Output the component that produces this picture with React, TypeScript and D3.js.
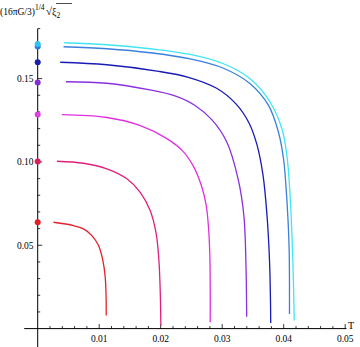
import React, { useEffect, useRef } from 'react';
import * as d3 from 'd3';

// [T, value]
const redCurve = [[0.00257, 0.0638], [0.00582, 0.0618], [0.00745, 0.0598], [0.00881, 0.0558], [0.00989, 0.0498], [0.0106, 0.0408], [0.01098, 0.0308], [0.01112, 0.0188], [0.01114, 0.0078]];
const crimsonCurve = [[0.00312, 0.1004], [0.00745, 0.0992], [0.01125, 0.0959], [0.0145, 0.0899], [0.01667, 0.0818], [0.01829, 0.0708], [0.01927, 0.0568], [0.01971, 0.0408], [0.01992, 0.0228], [0.02003, 0.0018]];
const magentaCurve = [[0.00393, 0.1284], [0.011, 0.1268], [0.0167, 0.1218], [0.021, 0.114], [0.0236, 0.1065], [0.0253, 0.0975], [0.0266, 0.086], [0.0274, 0.074], [0.02777, 0.0608], [0.02798, 0.045], [0.02805, 0.025], [0.02805, 0.0038]];
const purpleCurve = [[0.0046, 0.1481], [0.01122, 0.1472], [0.01826, 0.1432], [0.02233, 0.1396], [0.02558, 0.1339], [0.02834, 0.1252], [0.03073, 0.1121], [0.03262, 0.0892], [0.03354, 0.0671], [0.03387, 0.0371], [0.03398, 0.0071]];
const blueCurve = [[0.00366, 0.1598], [0.01125, 0.1583], [0.0194, 0.1545], [0.0245, 0.1508], [0.0291, 0.1442], [0.03224, 0.1348], [0.03436, 0.1234], [0.03566, 0.1102], [0.03663, 0.0922], [0.03728, 0.0682], [0.03769, 0.0412], [0.03785, 0.0172], [0.03789, 0.0034]];
const steelCurve = [[0.0042, 0.1691], [0.01125, 0.1679], [0.01829, 0.1655], [0.0248, 0.1618], [0.03021, 0.1562], [0.03455, 0.1469], [0.03753, 0.1339], [0.03915, 0.1178], [0.03997, 0.1019], [0.04036, 0.0858], [0.04068, 0.0668], [0.04089, 0.0468], [0.04094, 0.0088]];
const cyanCurve = [[0.00431, 0.1715], [0.01125, 0.1703], [0.01829, 0.1679], [0.0248, 0.1645], [0.03021, 0.1589], [0.03455, 0.1499], [0.0378, 0.1358], [0.03971, 0.1199], [0.04052, 0.1038], [0.04094, 0.0858], [0.04122, 0.0668], [0.04143, 0.0468], [0.04159, 0.0268], [0.04171, 0.0048]];

// points sitting on the vertical axis (T = 0)
const axisDots = [0.0638, 0.1002, 0.1284, 0.1476, 0.1598, 0.1692, 0.1708];

const xMajor = [0.01, 0.02, 0.03, 0.04, 0.05];
const xMajorLabels = ['0.01', '0.02', '0.03', '0.04', '0.05'];
const yMajor = [0.05, 0.1, 0.15];
const yMajorLabels = ['0.05', '0.10', '0.15'];

const curves = [redCurve, crimsonCurve, magentaCurve, purpleCurve, blueCurve, steelCurve, cyanCurve];
const lineColors = ['#e4202a', '#e0207c', '#e030e0', '#8a30e0', '#1a1ab4', '#3a80dc', '#40e6f0'];
const dotColors = ['#e01e24', '#d8205e', '#e040e0', '#8030d0', '#1820a8', '#2878d8', '#30c4f0'];

const App = () => {
  const chart = useRef<SVGSVGElement>(null);

  useEffect(() => {
    const svg = d3.select(chart.current);
    svg.selectAll('*').remove();

    const x = d3.scaleLinear().domain([0, 0.05]).range([37.7, 345.2]);
    const y = d3.scaleLinear().domain([0, 0.18]).range([328.6, 28.6]);
    const font = '"Liberation Serif", "DejaVu Serif", serif';

    const g = svg.append('g');

    // axes
    g.append('line')
      .attr('x1', x(-0.0022)).attr('x2', x(0.0502))
      .attr('y1', y(0)).attr('y2', y(0))
      .attr('stroke', 'black').attr('stroke-width', 1);
    g.append('line')
      .attr('x1', x(0)).attr('x2', x(0))
      .attr('y1', y(0.18)).attr('y2', 347)
      .attr('stroke', 'black').attr('stroke-width', 1);

    // x ticks
    const xMinor = d3.range(1, 26).map(i => i * 0.002).filter(v => Math.abs(v * 100 - Math.round(v * 100)) > 1e-6);
    g.append('g').selectAll('line')
      .data(xMinor)
      .join('line')
        .attr('x1', d => x(d)).attr('x2', d => x(d))
        .attr('y1', y(0)).attr('y2', y(0) - 2.5)
        .attr('stroke', 'black').attr('stroke-width', 0.8);
    g.append('g').selectAll('line')
      .data(xMajor)
      .join('line')
        .attr('x1', d => x(d)).attr('x2', d => x(d))
        .attr('y1', y(0)).attr('y2', y(0) - 4.5)
        .attr('stroke', 'black').attr('stroke-width', 0.8);
    g.append('g').selectAll('text')
      .data(xMajor)
      .join('text')
        .attr('x', d => x(d)).attr('y', 342)
        .attr('text-anchor', 'middle')
        .attr('font-family', font).attr('font-size', 9.5)
        .text((d, i) => xMajorLabels[i]);

    // y ticks
    const yMinor = d3.range(1, 19).map(i => i * 0.01).filter(v => Math.abs(v * 20 - Math.round(v * 20)) > 1e-6);
    g.append('g').selectAll('line')
      .data(yMinor)
      .join('line')
        .attr('x1', x(0)).attr('x2', x(0) + 2.5)
        .attr('y1', d => y(d)).attr('y2', d => y(d))
        .attr('stroke', 'black').attr('stroke-width', 0.8);
    g.append('g').selectAll('line')
      .data(yMajor)
      .join('line')
        .attr('x1', x(0)).attr('x2', x(0) + 4.5)
        .attr('y1', d => y(d)).attr('y2', d => y(d))
        .attr('stroke', 'black').attr('stroke-width', 0.8);
    g.append('g').selectAll('text')
      .data(yMajor)
      .join('text')
        .attr('x', 33.5).attr('y', d => y(d) + 3.3)
        .attr('text-anchor', 'end')
        .attr('font-family', font).attr('font-size', 9.5)
        .text((d, i) => yMajorLabels[i]);

    // axis labels
    g.append('text')
      .attr('x', 348).attr('y', 329)
      .attr('font-family', font).attr('font-size', 10)
      .text('T');

    const lab = g.append('text')
      .attr('x', 0).attr('y', 15)
      .attr('font-family', font).attr('font-size', 9.5);
    lab.append('tspan').text('(16πG/3)');
    lab.append('tspan').attr('dy', -5).attr('font-size', 7.5).text('1/4');
    lab.append('tspan').attr('dy', 5).attr('dx', 1.5).attr('font-size', 11).text('√');
    lab.append('tspan').attr('font-size', 10).text('ξ');
    lab.append('tspan').attr('dy', 2.5).attr('font-size', 7.5).text('2');
    g.append('line')
      .attr('x1', 56).attr('x2', 72).attr('y1', 3.5).attr('y2', 3.5)
      .attr('stroke', 'black').attr('stroke-width', 0.7);

    // curves
    const line = d3.line<number[]>()
      .x(d => x(d[0]))
      .y(d => y(d[1]))
      .curve(d3.curveCatmullRom.alpha(0.5));

    g.append('g').selectAll('path')
      .data(curves)
      .join('path')
        .attr('d', d => line(d))
        .attr('fill', 'none')
        .attr('stroke', (d, i) => lineColors[i])
        .attr('stroke-width', 1.3);

    // dots on the axis
    g.append('g').selectAll('circle')
      .data(axisDots)
      .join('circle')
        .attr('cx', x(0)).attr('cy', d => y(d))
        .attr('r', 3)
        .attr('fill', (d, i) => dotColors[i]);
  }, []);

  return (
    <div>
      <svg ref={chart} width={360} height={347}
        style={{ position: 'absolute', left: 0, top: 0, background: 'white' }}></svg>
    </div>
  );
};

export default App;
